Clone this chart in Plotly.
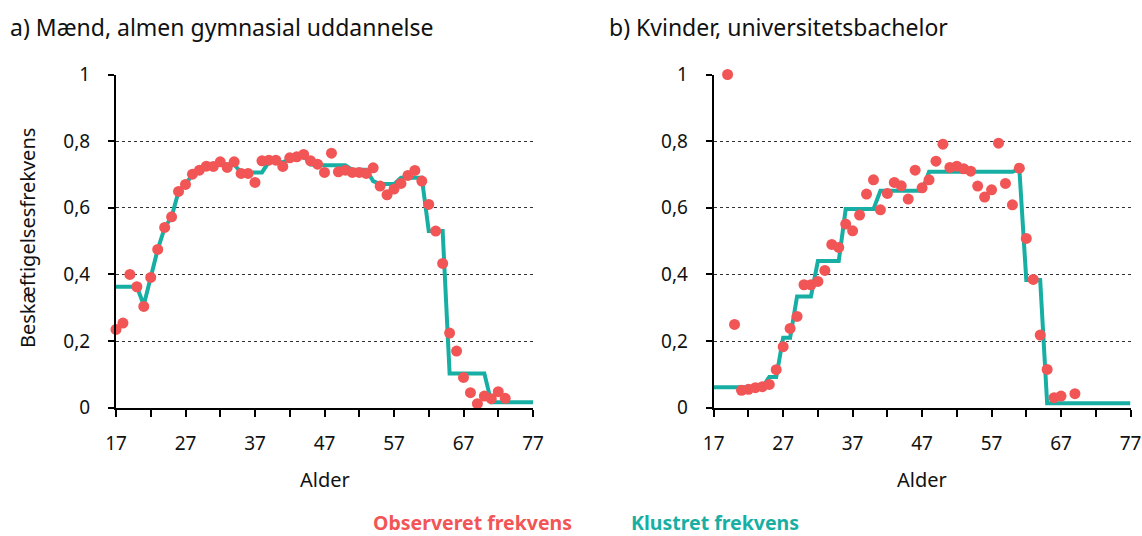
import plotly.graph_objects as go

# ---------------- data ----------------
ages_obs_a = list(range(17, 74))
obs_a = [0.235, 0.254, 0.400, 0.363, 0.304, 0.391, 0.475, 0.541, 0.573, 0.649,
         0.670, 0.701, 0.713, 0.725, 0.724, 0.738, 0.721, 0.738, 0.703, 0.703,
         0.676, 0.741, 0.743, 0.743, 0.724, 0.750, 0.753, 0.760, 0.741, 0.731,
         0.706, 0.764, 0.708, 0.713, 0.706, 0.706, 0.703, 0.720, 0.665, 0.639,
         0.656, 0.673, 0.697, 0.712, 0.680, 0.610, 0.530, 0.433, 0.224, 0.170,
         0.091, 0.045, 0.012, 0.035, 0.027, 0.048, 0.028]

ages_clu = list(range(17, 78))
clu_a = [0.363, 0.363, 0.363, 0.363, 0.308, 0.391, 0.475, 0.540, 0.573, 0.649,
         0.671, 0.700, 0.712, 0.720, 0.725, 0.730, 0.730, 0.730, 0.706, 0.706,
         0.706, 0.706, 0.738, 0.738, 0.737, 0.745, 0.752, 0.756, 0.730, 0.728,
         0.728, 0.728, 0.728, 0.728, 0.714, 0.714, 0.714, 0.680, 0.671, 0.671,
         0.671, 0.690, 0.690, 0.690, 0.690, 0.530, 0.530, 0.530, 0.103, 0.103,
         0.103, 0.103, 0.103, 0.103, 0.016, 0.016, 0.016, 0.016, 0.016, 0.016,
         0.016]

ages_obs_b = [19, 20, 21, 22, 23, 24, 25, 26, 27, 28, 29, 30, 31, 32, 33, 34,
              35, 36, 37, 38, 39, 40, 41, 42, 43, 44, 45, 46, 47, 48, 49, 50,
              51, 52, 53, 54, 55, 56, 57, 58, 59, 60, 61, 62, 63, 64, 65, 66,
              67, 69]
obs_b = [1.000, 0.250, 0.052, 0.055, 0.060, 0.063, 0.070, 0.114, 0.183, 0.238,
         0.274, 0.369, 0.369, 0.379, 0.412, 0.490, 0.481, 0.551, 0.531, 0.578,
         0.641, 0.684, 0.594, 0.643, 0.676, 0.666, 0.626, 0.713, 0.660, 0.684,
         0.740, 0.791, 0.721, 0.725, 0.717, 0.710, 0.665, 0.632, 0.654, 0.794,
         0.673, 0.609, 0.719, 0.508, 0.385, 0.218, 0.115, 0.030, 0.035, 0.042]

clu_b = [0.061, 0.061, 0.061, 0.061, 0.061, 0.061, 0.061, 0.061, 0.092, 0.092,
         0.210, 0.210, 0.334, 0.334, 0.334, 0.440, 0.440, 0.440, 0.440, 0.596,
         0.596, 0.596, 0.596, 0.596, 0.651, 0.651, 0.651, 0.651, 0.651, 0.651,
         0.651, 0.708, 0.708, 0.708, 0.708, 0.708, 0.708, 0.708, 0.708, 0.708,
         0.708, 0.708, 0.708, 0.708, 0.716, 0.383, 0.383, 0.383, 0.013, 0.013,
         0.013, 0.013, 0.013, 0.013, 0.013, 0.013, 0.013, 0.013, 0.013, 0.013,
         0.013]

titles = ["a) Mænd, almen gymnasial uddannelse", "b) Kvinder, universitetsbachelor"]
y_title = "Beskæftigelsesfrekvens"
x_title = "Alder"
legend_labels = ["Observeret frekvens", "Klustret frekvens"]
x_tickvals = [17, 27, 37, 47, 57, 67, 77]
y_tickvals = [0, 0.2, 0.4, 0.6, 0.8, 1]
y_ticktext = ["0", "0,2", "0,4", "0,6", "0,8", "1"]

RED = "#f25555"
TEAL = "#17afa4"
FONT = "Noto Sans"
TXT = "#111111"

W, H = 1142, 536
fig = go.Figure()

panels = [
    (ages_obs_a, obs_a, clu_a, "x", "y"),
    (ages_obs_b, obs_b, clu_b, "x2", "y2"),
]
for ao, o, c, xa, ya in panels:
    fig.add_trace(go.Scatter(x=ages_clu, y=c, mode="lines", xaxis=xa, yaxis=ya,
                             line=dict(color=TEAL, width=4), showlegend=False,
                             cliponaxis=False))
    fig.add_trace(go.Scatter(x=ao, y=o, mode="markers", xaxis=xa, yaxis=ya,
                             marker=dict(color=RED, size=11, line=dict(width=0)),
                             showlegend=False, cliponaxis=False))

ytop = 536 - 74.5
ybot = 536 - 407.7
ydom = [ybot / H, ytop / H]
xdom_a = [116 / W, 533 / W]
xdom_b = [713.7 / W, 1130.5 / W]

common_x = dict(range=[17, 77], tickvals=x_tickvals, ticks="outside", ticklen=7,
                tickwidth=2, tickcolor="black", showline=True, linecolor="black",
                linewidth=2, showgrid=False, zeroline=False, automargin=False,
                tickfont=dict(family=FONT, size=19, color=TXT),
                ticklabelstandoff=10,
                minor=dict(dtick=5, tick0=17, ticks="outside", ticklen=7,
                           tickwidth=2, tickcolor="black", showgrid=False))
common_y = dict(range=[0, 1], tickvals=y_tickvals, ticktext=y_ticktext,
                ticks="outside", ticklen=6, tickwidth=2, tickcolor="black",
                showline=True, linecolor="black", linewidth=2, automargin=False,
                showgrid=True, gridcolor="#333", griddash="dot", gridwidth=1,
                zeroline=False, ticklabelstandoff=14,
                tickfont=dict(family=FONT, size=19, color=TXT))

fig.update_layout(
    width=W, height=H,
    margin=dict(l=0, r=0, t=0, b=0, autoexpand=False),
    plot_bgcolor="white", paper_bgcolor="white",
    xaxis=dict(domain=xdom_a, anchor="y", **common_x),
    yaxis=dict(domain=ydom, anchor="x", **common_y),
    xaxis2=dict(domain=xdom_b, anchor="y2", **common_x),
    yaxis2=dict(domain=ydom, anchor="x2", **common_y),
    showlegend=False,
)

annots = [
    dict(text=titles[0], x=8 / W, y=1 - 27 / H, xanchor="left", yanchor="middle",
         font=dict(family=FONT, size=23, color=TXT)),
    dict(text=titles[1], x=607 / W, y=1 - 27 / H, xanchor="left", yanchor="middle",
         font=dict(family=FONT, size=23, color=TXT)),
    dict(text=y_title, x=27 / W, y=1 - 238 / H, xanchor="center", yanchor="middle",
         textangle=-90, font=dict(family=FONT, size=20, color=TXT)),
    dict(text=x_title, x=325 / W, y=1 - 479 / H, xanchor="center", yanchor="middle",
         font=dict(family=FONT, size=20, color=TXT)),
    dict(text=x_title, x=922 / W, y=1 - 479 / H, xanchor="center", yanchor="middle",
         font=dict(family=FONT, size=20, color=TXT)),
    dict(text="<b>" + legend_labels[0] + "</b>", x=372 / W, y=1 - 522 / H,
         xanchor="left", yanchor="middle", borderpad=0,
         font=dict(family=FONT, size=19.5, color=RED)),
    dict(text="<b>" + legend_labels[1] + "</b>", x=630 / W, y=1 - 522 / H,
         xanchor="left", yanchor="middle", borderpad=0,
         font=dict(family=FONT, size=19.5, color=TEAL)),
]
for a in annots:
    fig.add_annotation(xref="paper", yref="paper", showarrow=False, **a)

fig.write_html("out.html", config={"displayModeBar": False},
               post_script="document.body.style.margin='0';document.body.style.overflow='hidden';")
